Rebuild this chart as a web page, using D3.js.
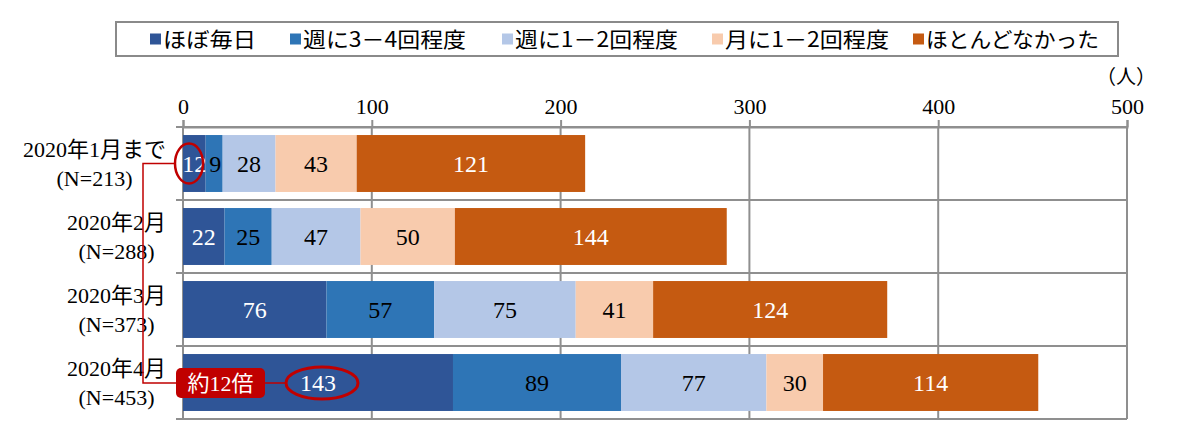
<!DOCTYPE html>
<html><head><meta charset="utf-8">
<script src="https://cdn.jsdelivr.net/npm/d3@7/dist/d3.min.js"></script>
<style>
body{margin:0;background:#fff;}
svg{display:block;}
</style></head>
<body>
<svg id="chart" width="1200" height="440"></svg>
<script>
const categories = ["2020年1月まで", "2020年2月", "2020年3月", "2020年4月"];
const sampleSizes = ["(N=213)", "(N=288)", "(N=373)", "(N=453)"];
const seriesNames = ["ほぼ毎日", "週に3－4回程度", "週に1－2回程度", "月に1－2回程度", "ほとんどなかった"];
const seriesColors = ["#2F5597", "#2E75B6", "#B4C7E7", "#F8CBAD", "#C55A11"];
const labelColors = ["#fff", "#000", "#000", "#000", "#fff"];
const dailyValues = [12, 22, 76, 143];
const weekly34Values = [9, 25, 57, 89];
const weekly12Values = [28, 47, 75, 77];
const monthlyValues = [43, 50, 41, 30];
const neverValues = [121, 144, 124, 114];
const xTicks = [0, 100, 200, 300, 400, 500];
const unitLabel = "（人）";
const annotationText = "約12倍";

const seriesValues = [dailyValues, weekly34Values, weekly12Values, monthlyValues, neverValues];
const rows = categories.map((c, i) => {
  const r = {cat: c};
  seriesNames.forEach((s, j) => r[s] = seriesValues[j][i]);
  return r;
});
const stacked = d3.stack().keys(seriesNames)(rows);

const svg = d3.select("#chart");
const serif = "'Liberation Serif','Times New Roman','Noto Sans CJK JP',serif";
const gothic = "'Noto Sans CJK JP','Noto Sans',sans-serif";
const gridColor = "#8f8f8f";

const x = d3.scaleLinear().domain([0, 500]).range([183, 1127]);
const y = d3.scaleBand().domain(categories).range([127, 419]).paddingInner(0.22).paddingOuter(0.11);
const step = y.step();

// vertical gridlines
svg.append("g").selectAll("line").data(xTicks.slice(1)).join("line")
  .attr("x1", d => x(d)).attr("x2", d => x(d))
  .attr("y1", 127).attr("y2", 419)
  .attr("stroke", gridColor).attr("stroke-width", 2);

// horizontal category separators
const seps = d3.range(categories.length + 1).map(i => 127 + i * step);
svg.append("g").selectAll("line").data(seps).join("line")
  .attr("x1", 176).attr("x2", x(500))
  .attr("y1", d => d).attr("y2", d => d)
  .attr("stroke", gridColor).attr("stroke-width", 2);

// top axis
const axisG = svg.append("g").attr("transform", "translate(0,127)")
  .call(d3.axisTop(x).tickValues(xTicks).tickSize(7).tickPadding(6));
axisG.select(".domain").attr("stroke", gridColor).attr("stroke-width", 2);
axisG.selectAll(".tick line").attr("stroke", gridColor).attr("stroke-width", 2);
axisG.selectAll(".tick text").attr("font-family", serif).attr("font-size", 22).attr("fill", "#000");

// left axis line
svg.append("line").attr("x1", x(0)).attr("x2", x(0)).attr("y1", 127).attr("y2", 419)
  .attr("stroke", gridColor).attr("stroke-width", 2);

// bars
const layers = svg.append("g").selectAll("g").data(stacked).join("g")
  .attr("fill", (d, i) => seriesColors[i]);
layers.selectAll("rect").data(d => d).join("rect")
  .attr("x", d => x(d[0])).attr("width", d => x(d[1]) - x(d[0]))
  .attr("y", d => y(d.data.cat)).attr("height", y.bandwidth());

// value labels
const lbl = svg.append("g").selectAll("g").data(stacked).join("g");
lbl.each(function(s, i) {
  d3.select(this).selectAll("text").data(s).join("text")
    .attr("x", d => (x(d[0]) + x(d[1])) / 2 + (i === 1 && d.data.cat === categories[0] ? 1 : 0))
    .attr("y", d => y(d.data.cat) + y.bandwidth() / 2 + 8)
    .attr("text-anchor", "middle")
    .attr("font-family", serif).attr("font-size", 24)
    .attr("fill", labelColors[i])
    .text(d => d[1] - d[0]);
});

// category labels
const catG = svg.append("g").selectAll("g").data(categories).join("g");
catG.each(function(c, i) {
  const g = d3.select(this);
  const cy = y(c) + y.bandwidth() / 2;
  const t1 = g.append("text").attr("y", cy - 6.5).text(c);
  const t2 = g.append("text").attr("y", cy + 22.5).text(sampleSizes[i]);
  g.selectAll("text").attr("font-family", serif).attr("font-size", 22).attr("fill", "#000").attr("text-anchor", "middle");
  const w = Math.max(t1.node().getComputedTextLength(), t2.node().getComputedTextLength());
  g.selectAll("text").attr("x", 166 - w / 2);
});

// unit label
svg.append("text").attr("x", 1126).attr("y", 84).attr("text-anchor", "middle")
  .attr("font-family", gothic).attr("font-size", 20).attr("fill", "#000").text(unitLabel);

// legend
svg.append("rect").attr("x", 116).attr("y", 22).attr("width", 1002).attr("height", 34)
  .attr("fill", "#fff").attr("stroke", "#8a8a8a").attr("stroke-width", 2);
const legendX = [150, 290, 502, 712, 913];
const legendW = [93, 163, 163, 164, 173];
const lg = svg.append("g").selectAll("g").data(seriesNames).join("g")
  .attr("transform", (d, i) => `translate(${legendX[i]},39)`);
lg.append("rect").attr("x", 0).attr("y", -5.5).attr("width", 11).attr("height", 11)
  .attr("fill", (d, i) => seriesColors[i]);
lg.append("text").attr("x", 13).attr("y", 8)
  .attr("font-family", gothic).attr("font-size", 21).attr("fill", "#000")
  .attr("textLength", (d, i) => legendW[i]).attr("lengthAdjust", "spacingAndGlyphs")
  .text(d => d);

// annotation
const red = "#C00000";
const c1 = {x: 189, y: y(categories[0]) + y.bandwidth() / 2};
const c4y = y(categories[3]) + y.bandwidth() / 2 + 0.5;
const ann = svg.append("g");
ann.append("path")
  .attr("d", `M${c1.x - 14},${c1.y} H143 V${c4y} H176`)
  .attr("fill", "none").attr("stroke", red).attr("stroke-width", 1.5);
ann.append("line").attr("x1", 265).attr("x2", 286).attr("y1", c4y).attr("y2", c4y)
  .attr("stroke", red).attr("stroke-width", 1.5);
ann.append("ellipse").attr("cx", c1.x).attr("cy", c1.y).attr("rx", 14).attr("ry", 20)
  .attr("fill", "none").attr("stroke", red).attr("stroke-width", 2.5);
ann.append("ellipse").attr("cx", 322).attr("cy", c4y).attr("rx", 36).attr("ry", 16)
  .attr("fill", "none").attr("stroke", red).attr("stroke-width", 3);
ann.append("rect").attr("x", 176).attr("y", c4y - 15).attr("width", 89).attr("height", 30)
  .attr("rx", 5).attr("fill", red);
ann.append("text").attr("x", 220.5).attr("y", c4y + 8).attr("text-anchor", "middle")
  .attr("font-family", "'Liberation Serif','Noto Sans CJK JP',serif").attr("font-size", 22).attr("fill", "#fff")
  .text(annotationText);
</script>
</body></html>
